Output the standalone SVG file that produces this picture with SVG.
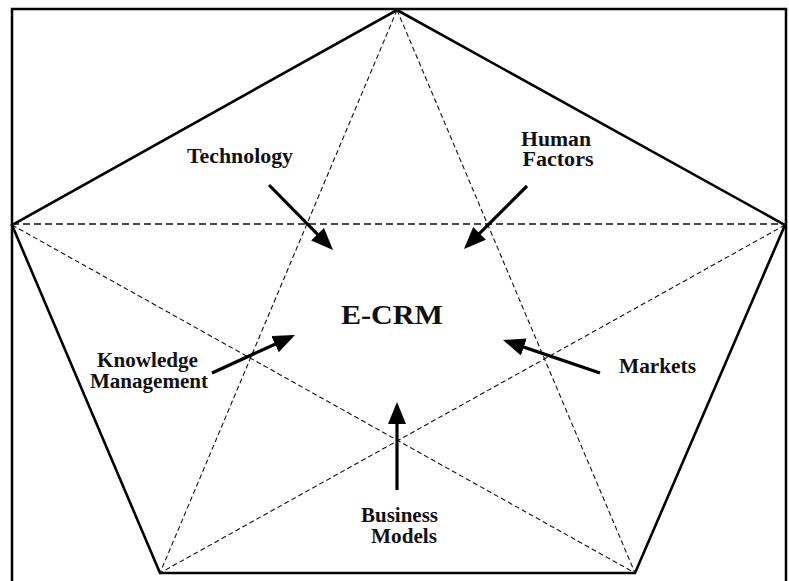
<svg xmlns="http://www.w3.org/2000/svg" width="789" height="581" viewBox="0 0 789 581">
<style>
.lbl{font-family:"Liberation Serif","Times New Roman",serif;font-weight:bold;font-size:20px;fill:#111;text-anchor:middle}
.big{font-size:27px}
.dash{fill:none;stroke:#111;stroke-width:1.1;stroke-dasharray:5 3}
.dash2{fill:none;stroke:#111;stroke-width:1.3;stroke-dasharray:7 4}
.arr{stroke:#000;stroke-width:3.2;fill:none;marker-end:url(#ah)}
</style>
<defs>
<marker id="ah" markerUnits="userSpaceOnUse" markerWidth="24" markerHeight="20" refX="18" refY="9" orient="auto">
<path d="M0,0 L22,9 L0,18 z" fill="#000"/>
</marker>
</defs>
<rect x="0" y="0" width="789" height="581" fill="#fff"/>
<g id="frame">
<path d="M12,590 L12,9 L786,9 L786,590" fill="none" stroke="#000" stroke-width="2.5"/>
</g>
<g id="pentagon">
<polygon points="397,10 785,225 635,573 160,573 12,225" fill="none" stroke="#000" stroke-width="2.6" stroke-linejoin="miter"/>
</g>
<g id="star">
<line class="dash2" x1="12" y1="224" x2="785" y2="224"/>
<line class="dash" x1="397" y1="10" x2="160" y2="573"/>
<line class="dash" x1="397" y1="10" x2="635" y2="573"/>
<line class="dash" x1="12" y1="225" x2="635" y2="573"/>
<line class="dash" x1="785" y1="225" x2="160" y2="573"/>
</g>
<g id="connectors">
<line class="arr" x1="269" y1="185" x2="330.2" y2="247.1"/>
<line class="arr" x1="527" y1="186" x2="466.8" y2="246.2"/>
<line class="arr" x1="212" y1="373" x2="291.4" y2="336.7"/>
<line class="arr" x1="397" y1="490" x2="397" y2="406"/>
<line class="arr" x1="600" y1="373" x2="506.8" y2="341.3"/>
</g>
<g id="node-ecrm"><text class="lbl big" x="392" y="324" textLength="102" lengthAdjust="spacingAndGlyphs">E-CRM</text></g>
<g id="node-technology"><text class="lbl" x="240" y="163" textLength="106" lengthAdjust="spacingAndGlyphs">Technology</text></g>
<g id="node-human-factors">
<text class="lbl" x="556" y="146" textLength="70" lengthAdjust="spacingAndGlyphs">Human</text>
<text class="lbl" x="558" y="166" textLength="71" lengthAdjust="spacingAndGlyphs">Factors</text>
</g>
<g id="node-knowledge-management">
<text class="lbl" x="147.5" y="367" textLength="101" lengthAdjust="spacingAndGlyphs">Knowledge</text>
<text class="lbl" x="149" y="388" textLength="118" lengthAdjust="spacingAndGlyphs">Management</text>
</g>
<g id="node-markets"><text class="lbl" x="657.5" y="373" textLength="77" lengthAdjust="spacingAndGlyphs">Markets</text></g>
<g id="node-business-models">
<text class="lbl" x="399.5" y="522" textLength="77" lengthAdjust="spacingAndGlyphs">Business</text>
<text class="lbl" x="404" y="543" textLength="66" lengthAdjust="spacingAndGlyphs">Models</text>
</g>
</svg>
